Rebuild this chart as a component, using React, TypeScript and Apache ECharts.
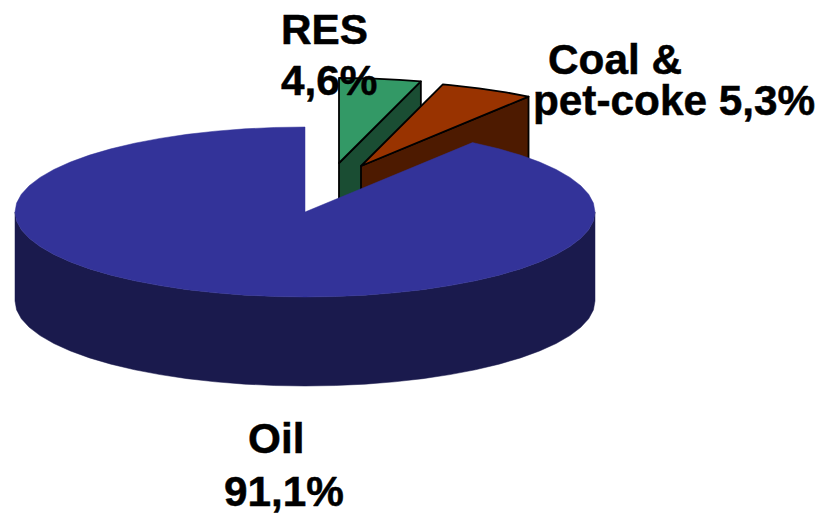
import React, { useEffect, useRef } from "react";
import * as echarts from "echarts";

const categories = ["RES", "Coal & pet-coke", "Oil"];
const shares = [4.6, 5.3, 91.1];
const labelLines = ["RES", "4,6%", "Coal &", "pet-coke 5,3%", "Oil", "91,1%"];

const labelAnchors = [
  [281, 50],
  [281, 101],
  [548, 80],
  [533, 121],
  [248, 459],
  [224, 512],
];
const explode = [
  [34, -49],
  [56, -46],
  [0, 0],
];
const topColors = ["#339966", "#993300", "#333399"];
const sideColors = ["#1A4D33", "#4D1A00", "#1A1A4D"];
const outlined = [true, true, false];

const CX = 305;
const CY = 212;
const RX = 290;
const RY = 85;
const DEPTH = 89;
const FACET = 6;

const total = shares.reduce((a, b) => a + b, 0);

function rim(ox: number, oy: number, a0: number, a1: number) {
  const pts: number[][] = [];
  const at = (deg: number) => {
    const r = (deg * Math.PI) / 180;
    pts.push([ox + RX * Math.sin(r), oy - RY * Math.cos(r)]);
  };
  at(a0);
  for (let d = Math.ceil(a0 / FACET + 1e-6) * FACET; d < a1 - 1e-6; d += FACET) at(d);
  at(a1);
  return pts;
}

function renderSlice(params: any, api: any) {
  const i = params.dataIndex;
  let before = 0;
  for (let k = 0; k < i; k++) before += shares[k];
  const a0 = (before / total) * 360;
  const a1 = a0 + (api.value(0) / total) * 360;
  const ox = CX + explode[i][0];
  const oy = CY + explode[i][1];
  const style = (fill: string) => ({
    fill,
    stroke: outlined[i] ? "#000" : fill,
    lineWidth: outlined[i] ? 1.8 : 0.5,
    lineJoin: "round",
  });
  const children: any[] = [];
  const f0 = Math.max(a0, 90);
  const f1 = Math.min(a1, 270);
  if (f1 > f0) {
    const upper = rim(ox, oy, f0, f1);
    const lower = upper.map((p) => [p[0], p[1] + DEPTH]).reverse();
    children.push({
      type: "polygon",
      shape: { points: upper.concat(lower) },
      style: style(sideColors[i]),
    });
  }
  if (a1 < 180) {
    const r = (a1 * Math.PI) / 180;
    const px = ox + RX * Math.sin(r);
    const py = oy - RY * Math.cos(r);
    children.push({
      type: "polygon",
      shape: {
        points: [
          [ox, oy],
          [px, py],
          [px, py + DEPTH],
          [ox, oy + DEPTH],
        ],
      },
      style: style(sideColors[i]),
    });
  }
  children.push({
    type: "polygon",
    shape: { points: [[ox, oy], ...rim(ox, oy, a0, a1)] },
    style: style(topColors[i]),
  });
  return { type: "group", children };
}

export default function App() {
  const ref = useRef<HTMLDivElement>(null);
  useEffect(() => {
    const chart = echarts.init(ref.current!, null, { renderer: "svg" });
    chart.setOption({
      animation: false,
      backgroundColor: "#fff",
      series: [
        {
          type: "custom",
          coordinateSystem: "none",
          silent: true,
          clip: false,
          renderItem: renderSlice,
          data: categories.map((name, i) => ({ name, value: [shares[i]] })),
        },
      ],
      graphic: labelLines.map((text, i) => ({
        type: "text",
        x: labelAnchors[i][0],
        y: labelAnchors[i][1],
        z: 100,
        style: {
          text,
          fill: "#000",
          stroke: "#000",
          lineWidth: 0.5,
          font: 'bold 42.3px "Liberation Sans", Arial, sans-serif',
          textAlign: "left",
          textVerticalAlign: "bottom",
        },
      })),
    });
    return () => chart.dispose();
  }, []);
  return (
    <div
      ref={ref}
      style={{ position: "fixed", left: 0, top: 0, width: 819, height: 513 }}
    />
  );
}
